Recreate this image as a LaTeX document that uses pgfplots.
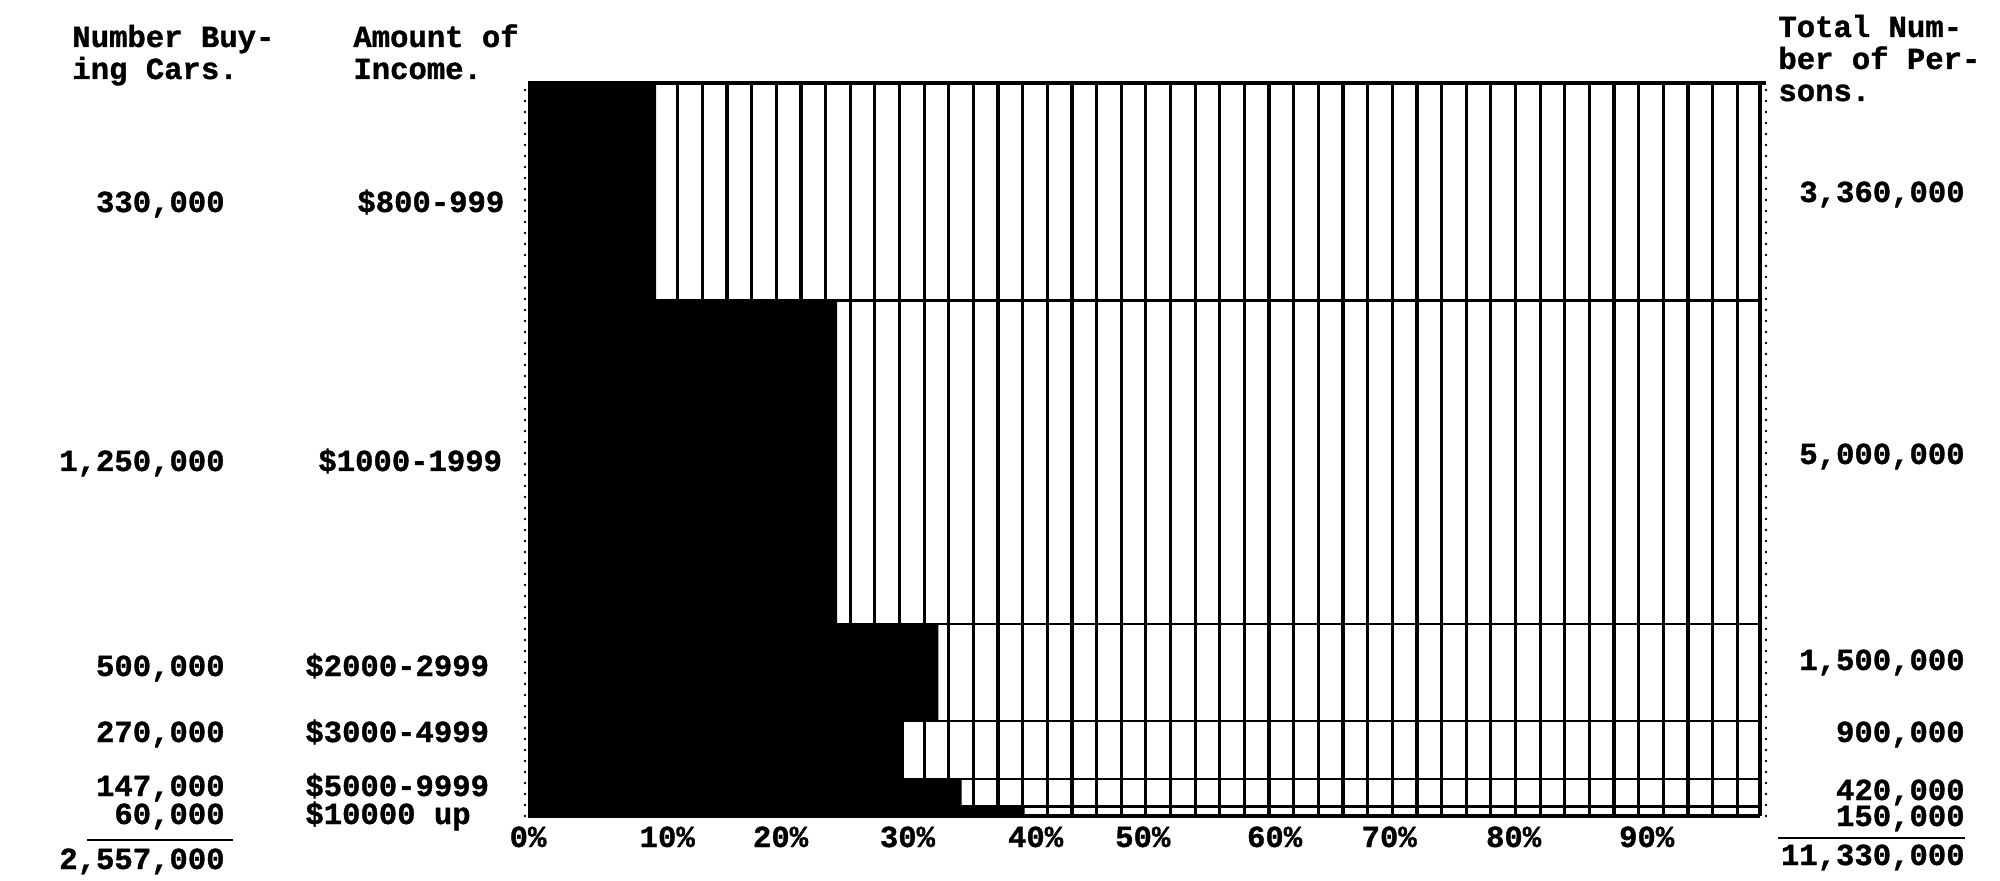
\documentclass[border=0pt]{standalone}
\usepackage{fontspec}
\setmainfont{Liberation Mono}[BoldFeatures={FakeBold=1.2}]
\usepackage{pgfplots}
\pgfplotsset{compat=1.18}
\newcommand{\tw}{\bfseries\fontsize{15.3}{16}\selectfont}

\begin{document}
\begin{tikzpicture}
\path[use as bounding box] (0,0) rectangle (1000pt,-440.5pt);
\begin{axis}[
  at={(264pt,-408pt)}, anchor=south west,
  scale only axis, width=616pt, height=366.5pt,
  xmin=0, xmax=100, ymin=0, ymax=11.33,
  axis line style={draw=none},
  xtick={0,11.3,20.5,30.8,41.2,49.9,60.6,69.9,80,90.8},
  xticklabels={0\%,10\%,20\%,30\%,40\%,50\%,60\%,70\%,80\%,90\%},
  major tick length=0pt, minor tick length=0pt,
  minor xtick={2.15,4.15,...,98.15},
  xminorgrids=true,
  minor x grid style={black, line width=1.6pt},
  ytick={0.15,0.57,1.47,2.97,7.97},
  yticklabels={},
  ymajorgrids=true,
  major y grid style={black, line width=1.3pt},
  xticklabel style={font=\tw, anchor=base, yshift=-15.5pt, inner sep=0pt},
  clip=false,
]
% black part: share of persons buying cars in each income group (x in %, y = cumulative persons, millions)
\addplot[fill=black, draw=none] coordinates {
  (0,0) (40.3,0) (40.3,0.15) (35.2,0.15) (35.2,0.57) (30.5,0.57)
  (30.5,1.47) (33.3,1.47) (33.3,2.97) (25.1,2.97) (25.1,7.97)
  (10.4,7.97) (10.4,11.33) (0,11.33)};
\draw[line width=2pt] (rel axis cs:0,1) -- ([xshift=3pt]rel axis cs:1,1);
\draw[line width=1.6pt] (rel axis cs:0,0) -- (rel axis cs:1,0);
\draw[line width=1.6pt] (rel axis cs:1,0) -- (rel axis cs:1,1);
\draw[line width=1.4pt, line cap=round, dash pattern=on 0pt off 5.5pt]
  ([xshift=3pt]rel axis cs:1,0) -- ([xshift=3pt]rel axis cs:1,1);
\draw[line width=1.4pt, line cap=round, dash pattern=on 0pt off 5.5pt]
  ([xshift=-1.5pt]rel axis cs:0,0) -- ([xshift=-1.5pt]rel axis cs:0,1);
\end{axis}

% headers
\node[anchor=base west, font=\tw, inner sep=0] at (36pt,-23.5pt) {Number Buy-};
\node[anchor=base west, font=\tw, inner sep=0] at (36pt,-39.5pt) {ing Cars.};
\node[anchor=base west, font=\tw, inner sep=0] at (176.5pt,-23.5pt) {Amount of};
\node[anchor=base west, font=\tw, inner sep=0] at (176.5pt,-39.5pt) {Income.};
\node[anchor=base west, font=\tw, inner sep=0] at (889pt,-18.5pt) {Total Num-};
\node[anchor=base west, font=\tw, inner sep=0] at (889pt,-34.5pt) {ber of Per-};
\node[anchor=base west, font=\tw, inner sep=0] at (889pt,-50.5pt) {sons.};

% number buying cars
\begin{scope}[every node/.style={anchor=base east, font=\tw, inner sep=0}]
\node at (112.5pt,-106pt) {330,000};
\node at (112.5pt,-235.5pt) {1,250,000};
\node at (112.5pt,-338pt) {500,000};
\node at (112.5pt,-371pt) {270,000};
\node at (112.5pt,-398pt) {147,000};
\node at (112.5pt,-412pt) {60,000};
\node at (112.5pt,-434.5pt) {2,557,000};
\end{scope}
\draw[line width=1.3pt] (43.5pt,-420pt) -- (116.5pt,-420pt);

% amount of income
\begin{scope}[every node/.style={anchor=base west, font=\tw, inner sep=0}]
\node at (178.5pt,-106pt) {\$800-999};
\node at (159pt,-235.5pt) {\$1000-1999};
\node at (152.5pt,-338pt) {\$2000-2999};
\node at (152.5pt,-371pt) {\$3000-4999};
\node at (152.5pt,-398pt) {\$5000-9999};
\node at (152.5pt,-412pt) {\$10000 up};
\end{scope}

% total number of persons
\begin{scope}[every node/.style={anchor=base east, font=\tw, inner sep=0}]
\node at (982.5pt,-101pt) {3,360,000};
\node at (982.5pt,-232pt) {5,000,000};
\node at (982.5pt,-335pt) {1,500,000};
\node at (982.5pt,-371pt) {900,000};
\node at (982.5pt,-400pt) {420,000};
\node at (982.5pt,-413pt) {150,000};
\node at (982.5pt,-432.5pt) {11,330,000};
\end{scope}
\draw[line width=1.3pt] (889pt,-419pt) -- (982.5pt,-419pt);
\end{tikzpicture}
\end{document}
